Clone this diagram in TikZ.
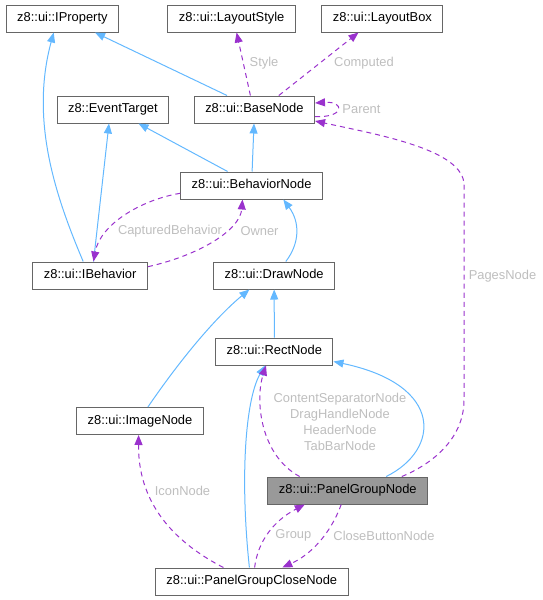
\documentclass[tikz,border=0pt]{standalone}
\usepackage{fontspec}
\setmainfont{Liberation Sans}
\usepackage{tikz}
\usetikzlibrary{arrows.meta}
\definecolor{inheritblue}{HTML}{63B8FF}
\definecolor{usagepurple}{HTML}{9A32CD}
\definecolor{labelgray}{HTML}{BEBEBE}
\definecolor{boxgray}{HTML}{666666}
\definecolor{focusfill}{HTML}{999999}
\tikzstyle{classnode}=[draw=boxgray,line width=1pt,fill=white,minimum height=27pt,inner xsep=11pt,inner ysep=0pt,text height=9pt,text depth=2.5pt,font=\fontsize{12.9}{15}\selectfont]
\tikzstyle{focus}=[classnode,fill=focusfill]
\tikzstyle{inherit}=[draw=inheritblue,line width=1pt,-{Triangle[length=10pt,width=8pt]}]
\tikzstyle{usage}=[draw=usagepurple,line width=1pt,dash pattern=on 5pt off 4pt,-{Triangle[length=10pt,width=8pt]}]
\tikzstyle{edgelabel}=[text=labelgray,inner sep=0pt,align=center,font=\fontsize{12.9}{16}\selectfont]

\begin{document}
\begin{tikzpicture}[x=1pt,y=-1pt]
    \useasboundingbox (0,0) rectangle (543,600);
    % First we draw the classes
    \foreach \pos/\name/\lbl in {{(62.4,18.5)/IProperty/z8::ui::IProperty}, {(231.7,18.5)/LayoutStyle/z8::ui::LayoutStyle},
        {(382.4,18.5)/LayoutBox/z8::ui::LayoutBox}, {(112.9,109.5)/EventTarget/z8::EventTarget}, {(254.4,109.5)/BaseNode/z8::ui::BaseNode},
        {(251.6,185.5)/BehaviorNode/z8::ui::BehaviorNode}, {(90.2,275.5)/IBehavior/z8::ui::IBehavior}, {(274.2,275.5)/DrawNode/z8::ui::DrawNode},
        {(274.3,351.5)/RectNode/z8::ui::RectNode}, {(140,421)/ImageNode/z8::ui::ImageNode}, {(251.8,581.5)/PanelGroupCloseNode/z8::ui::PanelGroupCloseNode}}
        \node[classnode] (\name) at \pos {\lbl};
    \node[focus] (PanelGroupNode) at (347.8,490.5) {z8::ui::PanelGroupNode};
    % Inheritance edges
    \draw[inherit] ([xshift=-27.4pt]BaseNode.north) -- ([xshift=32.6pt]IProperty.south);
    \draw[inherit] ([xshift=-7pt]IBehavior.north) .. controls (55,195) and (30,120) .. ([xshift=-8.7pt]IProperty.south);
    \draw[inherit] ([xshift=3.3pt]IBehavior.north) -- ([xshift=-3.9pt]EventTarget.south);
    \draw[inherit] ([xshift=-24pt]BehaviorNode.north) -- ([xshift=25.6pt]EventTarget.south);
    \draw[inherit] ([xshift=0.5pt]BehaviorNode.north) -- ([xshift=-0.4pt]BaseNode.south);
    \draw[inherit] ([xshift=11.6pt]DrawNode.north) .. controls (300,243) and (300,222) .. ([xshift=31.7pt]BehaviorNode.south);
    \draw[inherit] ([xshift=7.9pt]ImageNode.north) .. controls (180,360) and (215,318) .. ([xshift=-24.8pt]DrawNode.south);
    \draw[inherit] (RectNode.north) -- (DrawNode.south);
    \draw[inherit] ([xshift=-2.4pt]PanelGroupCloseNode.north) .. controls (240,480) and (245,400) .. ([xshift=-9.3pt]RectNode.south);
    \draw[inherit] ([xshift=38.4pt]PanelGroupNode.north) .. controls (440,450) and (445,385) .. ([yshift=-10pt]RectNode.east);
    % Member edges
    \draw[usage] ([xshift=-4pt]BaseNode.north) -- ([xshift=4.9pt]LayoutStyle.south);
    \draw[usage] ([xshift=24.4pt]BaseNode.north) -- ([xshift=-23.9pt]LayoutBox.south);
    \draw[usage] ([yshift=-7pt]BaseNode.east) .. controls (345,118) and (345,101) .. ([yshift=6.5pt]BaseNode.east);
    \draw[usage] ([xshift=54pt]PanelGroupNode.north) .. controls (430,465) and (464,440) .. (464,400) -- (464,185)
        .. controls (464,150) and (380,135) .. ([yshift=-11.5pt]BaseNode.east);
    \draw[usage] ([yshift=-7.8pt]BehaviorNode.west) .. controls (140,200) and (100,225) .. ([xshift=3.3pt]IBehavior.north);
    \draw[usage] ([yshift=8.8pt]IBehavior.east) .. controls (200,255) and (240,230) .. ([xshift=-9.1pt]BehaviorNode.south);
    \draw[usage] ([xshift=-48.2pt]PanelGroupNode.north) .. controls (260,455) and (255,400) .. ([xshift=-8.3pt]RectNode.south);
    \draw[usage] ([xshift=-28.4pt]PanelGroupCloseNode.north) .. controls (170,540) and (138,500) .. ([xshift=-1.4pt]ImageNode.south);
    \draw[usage] ([xshift=2.8pt]PanelGroupCloseNode.north) .. controls (258,540) and (275,520) .. ([xshift=-43pt]PanelGroupNode.south);
    \draw[usage] ([xshift=-6.6pt]PanelGroupNode.south) .. controls (330,535) and (310,555) .. ([xshift=30.5pt]PanelGroupCloseNode.north);
    % Labels of the members
    \node[edgelabel] (lStyle) at (264,63) {Style};
    \node[edgelabel] (lComputed) at (364,63) {Computed};
    \node[edgelabel] (lParent) at (361.5,109) {Parent};
    \node[edgelabel] (lPages) at (502.5,276) {PagesNode};
    \node[edgelabel] (lCaptured) at (170,231) {CapturedBehavior};
    \node[edgelabel] (lOwner) at (259.5,231) {Owner};
    \node[edgelabel] (lRect) at (340,421.5) {ContentSeparatorNode\\DragHandleNode\\HeaderNode\\TabBarNode};
    \node[edgelabel] (lIcon) at (182.5,490.7) {IconNode};
    \node[edgelabel] (lGroup) at (293.4,535.7) {Group};
    \node[edgelabel] (lClose) at (384,535.7) {CloseButtonNode};
\end{tikzpicture}
\end{document}
